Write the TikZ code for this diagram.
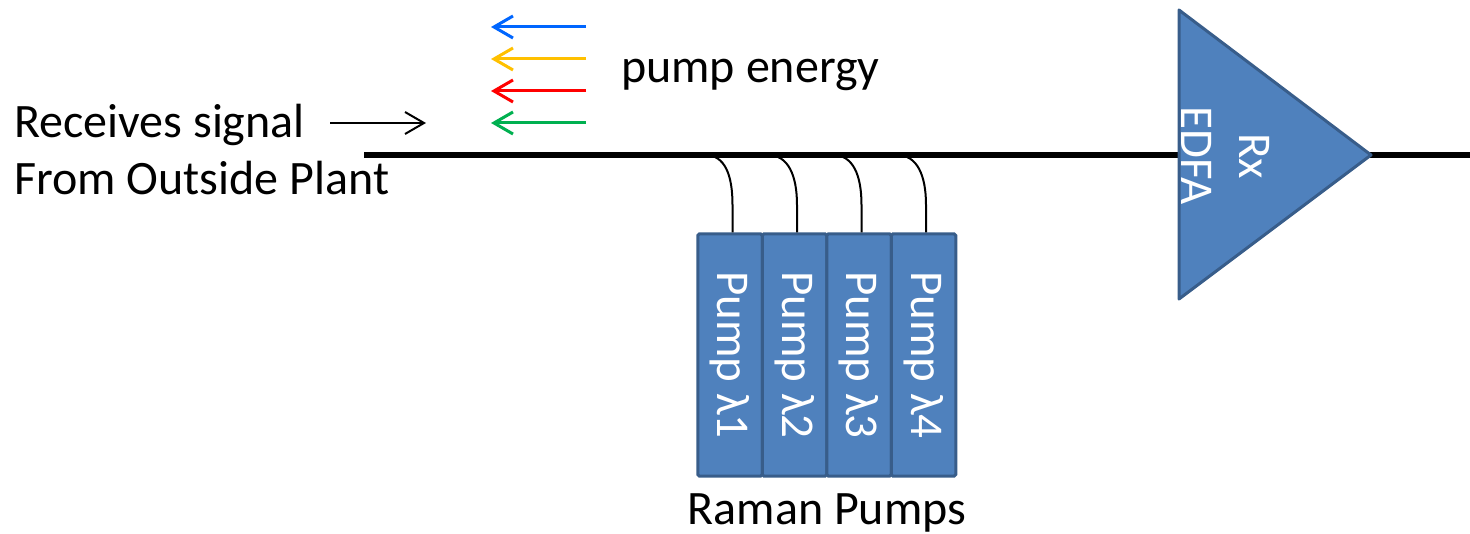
\documentclass[tikz,border=0pt]{standalone}
\usepackage{fontspec}
\setmainfont{Carlito}
\usetikzlibrary{arrows.meta}
\definecolor{boxfill}{HTML}{4F81BD}
\definecolor{boxline}{HTML}{385D8A}
\definecolor{pblue}{HTML}{0066FF}
\definecolor{pyellow}{HTML}{FFC000}
\definecolor{pred}{HTML}{FF0000}
\definecolor{pgreen}{HTML}{00B050}
\begin{document}
\begin{tikzpicture}[x=1pt,y=-1pt,
  big/.style={font=\fontsize{48}{57}\selectfont, inner sep=0pt},
  pumpbox/.style={draw=boxline, fill=boxfill, line width=3pt, minimum width=64.5pt, minimum height=242pt, inner sep=0pt, rounded corners=1.5pt},
  pumptext/.style={text=white, font=\fontsize{47}{56}\selectfont, rotate=-90, inner sep=0pt},
  energy/.style={line width=3pt, -{Straight Barb[length=19pt,width=22pt,line width=3pt]}},
  lead/.style={line width=2pt},
  fiber/.style={line width=6pt}]
\useasboundingbox (0,0) rectangle (1470,534);
% fiber
\coordinate (fstart) at (364,155);
\coordinate (fend) at (1470,155);
\draw[fiber] (fstart) -- (fend);
% amplifier
\coordinate (ta) at (1179,10);
\coordinate (tb) at (1371,155);
\coordinate (tc) at (1179,299);
\draw[line width=3pt, draw=boxline, fill=boxfill, line join=round] (ta) -- (tb) -- (tc) -- cycle;
\node[pumptext, align=center, font=\fontsize{47}{58}\selectfont] (edfa) at (1226,156) {Rx\\EDFA};
% pump boxes
\foreach \i/\x/\tx in {1/730/705, 2/794.5/768, 3/859/833, 4/923.5/897}{
  \node[pumpbox] (p\i) at (\x,355) {};
  \node[pumptext] (pt\i) at (p\i.center) {Pump λ\i};
  \coordinate (t\i) at (\tx,155);
  \coordinate (k\i) at ([xshift=2.5pt]p\i.north |- 0,205);
  \draw[lead] (t\i) .. controls +(20,0) and +(0,-30) .. (k\i) -- ([xshift=2.5pt]p\i.north);
}
\node[big, anchor=base] (raman) at (827,524) {Raman Pumps};
% labels
\node[big, anchor=base west, align=left] (recv) at (14,195) {Receives signal\\From Outside Plant};
\node[big, anchor=base west] (energy) at (621,83) {pump energy};
% arrows
\coordinate (s1) at (330,123);
\coordinate (s2) at (426,123);
\draw[line width=2pt, -{Straight Barb[length=19pt,width=22pt,line width=2pt]}] (s1) -- (s2);
\coordinate (b1) at (586,27);  \coordinate (b2) at (491,27);
\coordinate (y1) at (586,59);  \coordinate (y2) at (491,59);
\coordinate (r1) at (586,91);  \coordinate (r2) at (491,91);
\coordinate (g1) at (586,123); \coordinate (g2) at (491,123);
\draw[energy, pblue] (b1) -- (b2);
\draw[energy, pyellow] (y1) -- (y2);
\draw[energy, pred] (r1) -- (r2);
\draw[energy, pgreen] (g1) -- (g2);
\end{tikzpicture}
\end{document}
